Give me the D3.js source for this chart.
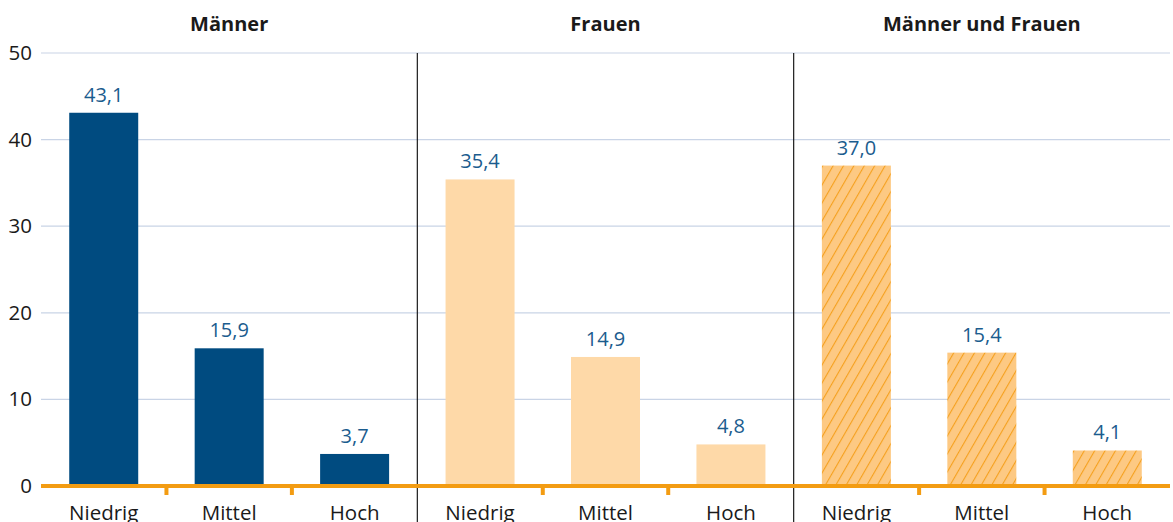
<!DOCTYPE html>
<html>
<head>
<meta charset="utf-8">
<script src="https://cdn.jsdelivr.net/npm/d3@7"></script>
<style>
  html, body { margin: 0; padding: 0; background: #fff; }
  svg { display: block; font-family: "Open Sans", "Noto Sans", sans-serif; }
</style>
</head>
<body>
<div id="chart"></div>
<script>
// Data
const groups = ["Männer", "Frauen", "Männer und Frauen"];
const levels = ["Niedrig", "Mittel", "Hoch"];
const maennerValues = [43.1, 15.9, 3.7];
const frauenValues = [35.4, 14.9, 4.8];
const gesamtValues = [37.0, 15.4, 4.1];
const yTicks = [0, 10, 20, 30, 40, 50];

const seriesValues = [maennerValues, frauenValues, gesamtValues];

const width = 1173, height = 522;
const margin = { top: 53, right: 3, bottom: 36, left: 41 };
const innerW = width - margin.left - margin.right;
const innerH = height - margin.top - margin.bottom;

const svg = d3.select("#chart").append("svg")
    .attr("width", width)
    .attr("height", height);

// Hatch pattern for combined group
const defs = svg.append("defs");
const pat = defs.append("pattern")
    .attr("id", "hatch")
    .attr("patternUnits", "userSpaceOnUse")
    .attr("width", 9)
    .attr("height", 9)
    .attr("patternTransform", "rotate(30)");
pat.append("rect").attr("width", 9).attr("height", 9).attr("fill", "#fdc983");
pat.append("line")
    .attr("x1", 0).attr("y1", 0).attr("x2", 0).attr("y2", 9)
    .attr("stroke", "#f5a01e").attr("stroke-width", 2.2);

const fills = ["#004b80", "#fed9a8", "url(#hatch)"];

const g = svg.append("g").attr("transform", `translate(${margin.left},${margin.top})`);

const x0 = d3.scaleBand().domain(groups).range([0, innerW]).padding(0);
const x1 = d3.scaleBand().domain(levels).range([0, x0.bandwidth()]).paddingInner(0.45).paddingOuter(0.225);
const xTick = d3.scaleBand().domain(levels).range([0, x0.bandwidth()]).padding(0);
const y = d3.scaleLinear().domain([0, 50]).range([innerH, 0]);

// Gridlines
g.append("g")
    .selectAll("line")
    .data(yTicks.filter(d => d > 0))
    .join("line")
    .attr("x1", 0).attr("x2", innerW)
    .attr("y1", d => y(d)).attr("y2", d => y(d))
    .attr("stroke", "#c9d4e6").attr("stroke-width", 1.2);

// Y axis labels
const yAxis = g.append("g")
    .call(d3.axisLeft(y).tickValues(yTicks).tickSize(0).tickPadding(9).tickFormat(d3.format("d")));
yAxis.select(".domain").remove();
yAxis.selectAll("text")
    .attr("font-size", 20.5)
    .attr("font-family", "Open Sans, sans-serif")
    .attr("fill", "#1a1a1a");

// Panels
const panel = g.selectAll(".panel")
    .data(groups)
    .join("g")
    .attr("class", "panel")
    .attr("transform", d => `translate(${x0(d)},0)`);

panel.append("text")
    .attr("x", x0.bandwidth() / 2)
    .attr("y", -22)
    .attr("text-anchor", "middle")
    .attr("font-size", 20)
    .attr("font-weight", "bold")
    .attr("fill", "#1a1a1a")
    .text(d => d);

panel.each(function (grp, gi) {
    const p = d3.select(this);
    const vals = seriesValues[gi];
    p.selectAll("rect.bar")
        .data(levels.map((l, i) => ({ level: l, value: vals[i] })))
        .join("rect")
        .attr("class", "bar")
        .attr("x", d => x1(d.level))
        .attr("width", x1.bandwidth())
        .attr("y", d => y(d.value))
        .attr("height", d => y(0) - y(d.value))
        .attr("fill", fills[gi]);
    p.selectAll("text.val")
        .data(levels.map((l, i) => ({ level: l, value: vals[i] })))
        .join("text")
        .attr("class", "val")
        .attr("x", d => x1(d.level) + x1.bandwidth() / 2)
        .attr("y", d => y(d.value) - 11)
        .attr("text-anchor", "middle")
        .attr("font-size", 20)
        .attr("fill", "#1b5c8e")
        .text(d => d.value.toFixed(1).replace(".", ","));
    p.selectAll("text.cat")
        .data(levels)
        .join("text")
        .attr("class", "cat")
        .attr("x", d => xTick(d) + xTick.bandwidth() / 2)
        .attr("y", innerH + 34)
        .attr("text-anchor", "middle")
        .attr("font-size", 20.5)
        .attr("fill", "#1a1a1a")
        .text(d => d);
    // small orange ticks between categories
    p.selectAll("line.tick")
        .data(levels.slice(1))
        .join("line")
        .attr("class", "tick")
        .attr("x1", d => xTick(d)).attr("x2", d => xTick(d))
        .attr("y1", innerH).attr("y2", innerH + 9)
        .attr("stroke", "#f39c12").attr("stroke-width", 4);
});

// Dividers between panels
g.selectAll("line.divider")
    .data(groups.slice(1))
    .join("line")
    .attr("class", "divider")
    .attr("x1", d => x0(d)).attr("x2", d => x0(d))
    .attr("y1", 0).attr("y2", height - margin.top)
    .attr("stroke", "#1a1a1a").attr("stroke-width", 1.2);

// Baseline
g.append("line")
    .attr("x1", 0).attr("x2", innerW)
    .attr("y1", y(0)).attr("y2", y(0))
    .attr("stroke", "#f39c12").attr("stroke-width", 4);
</script>
</body>
</html>
